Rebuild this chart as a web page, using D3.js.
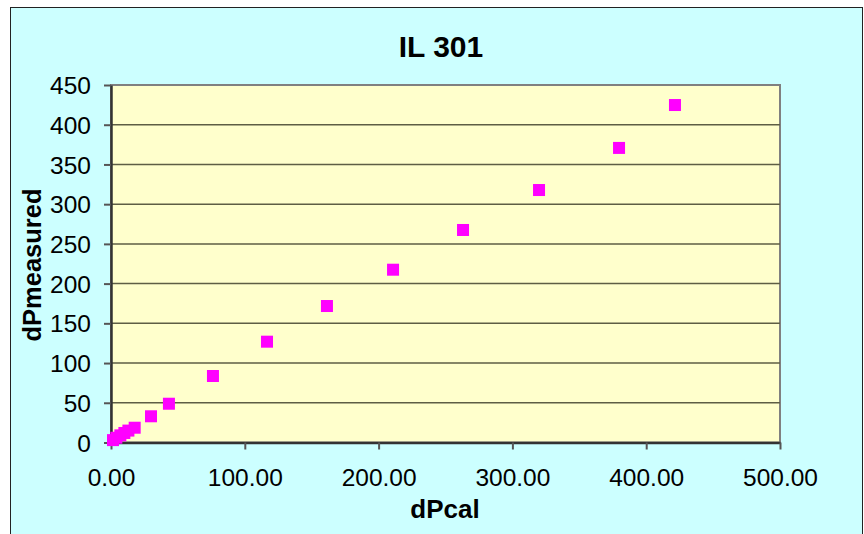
<!DOCTYPE html>
<html>
<head>
<meta charset="utf-8">
<script src="https://cdn.jsdelivr.net/npm/d3@7/dist/d3.min.js"></script>
<style>
  html, body { margin: 0; padding: 0; background: #ffffff; }
  svg { display: block; font-family: "Liberation Sans", Arial, sans-serif; }
</style>
</head>
<body>
<svg id="chart" width="864" height="534"></svg>
<script>
// Calculated vs measured pressure drop for IL 301
const title = "IL 301";
const xLabel = "dPcal";
const yLabel = "dPmeasured";
const dPcal      = [1.5, 4, 7, 10, 13, 17.7, 29.9, 43.3, 76.2, 116.6, 161.4, 210.8, 263.1, 319.9, 379.7, 421.5];
const dPmeasured = [3, 6, 9, 12, 15, 18.6, 33.0, 48.8, 83.7, 126.9, 171.8, 217.5, 267.5, 317.8, 370.8, 424.8];
const xTicks = [0, 100, 200, 300, 400, 500];
const yTicks = [0, 50, 100, 150, 200, 250, 300, 350, 400, 450];

const svg = d3.select("#chart");
const plot = { left: 111, right: 780, top: 85, bottom: 442.5 };

const x = d3.scaleLinear().domain([0, 500]).range([plot.left, plot.right]);
const y = d3.scaleLinear().domain([0, 450]).range([plot.bottom, plot.top]);

// Chart background and frame
svg.append("rect")
  .attr("x", 10.5).attr("y", 7.5)
  .attr("width", 852).attr("height", 540)
  .attr("fill", "#CCFFFF")
  .attr("stroke", "#222").attr("stroke-width", 1);

// Plot area
svg.append("rect")
  .attr("x", plot.left).attr("y", plot.top)
  .attr("width", plot.right - plot.left).attr("height", plot.bottom - plot.top)
  .attr("fill", "#FFFFCC")
  .attr("stroke", "#808080").attr("stroke-width", 2);

// Horizontal gridlines
svg.append("g")
  .selectAll("line")
  .data(yTicks.filter(d => d > 0 && d < 450))
  .join("line")
  .attr("x1", plot.left).attr("x2", plot.right)
  .attr("y1", d => y(d)).attr("y2", d => y(d))
  .attr("stroke", "#5e5e44").attr("stroke-width", 1.5);

// Axes
const yAxis = d3.axisLeft(y).tickValues(yTicks).tickFormat(d3.format("d")).tickSizeInner(7).tickSizeOuter(0).tickPadding(13);
const xAxis = d3.axisBottom(x).tickValues(xTicks).tickFormat(d3.format(".2f")).tickSizeInner(7).tickSizeOuter(0).tickPadding(19);

const gy = svg.append("g").attr("transform", `translate(${plot.left},0)`).call(yAxis);
const gx = svg.append("g").attr("transform", `translate(0,${plot.bottom})`).call(xAxis);

[gx, gy].forEach(g => {
  g.select(".domain").attr("stroke", "#333").attr("stroke-width", 2.5);
  g.selectAll(".tick line").attr("stroke", "#555").attr("stroke-width", 2);
  g.selectAll(".tick text")
    .attr("fill", "#000")
    .style("font-family", "'Liberation Sans', Arial, sans-serif")
    .style("font-size", "24.5px");
});
gy.selectAll(".tick text").attr("dy", "0.35em");

// Points
svg.append("g")
  .selectAll("rect")
  .data(dPcal.map((v, i) => [v, dPmeasured[i]]))
  .join("rect")
  .attr("x", d => x(d[0]) - 6)
  .attr("y", d => y(d[1]) - 6)
  .attr("width", 12).attr("height", 12)
  .attr("fill", "#FF00FF");

// Title and axis titles
svg.append("text")
  .attr("x", 441).attr("y", 56.5)
  .attr("text-anchor", "middle")
  .style("font-size", "30px").style("font-weight", "bold")
  .text(title);

svg.append("text")
  .attr("x", 445).attr("y", 517.5)
  .attr("text-anchor", "middle")
  .style("font-size", "26px").style("font-weight", "bold")
  .text(xLabel);

svg.append("text")
  .attr("transform", "translate(41,265) rotate(-90)")
  .attr("text-anchor", "middle")
  .style("font-size", "25.5px").style("font-weight", "bold")
  .text(yLabel);
</script>
</body>
</html>
